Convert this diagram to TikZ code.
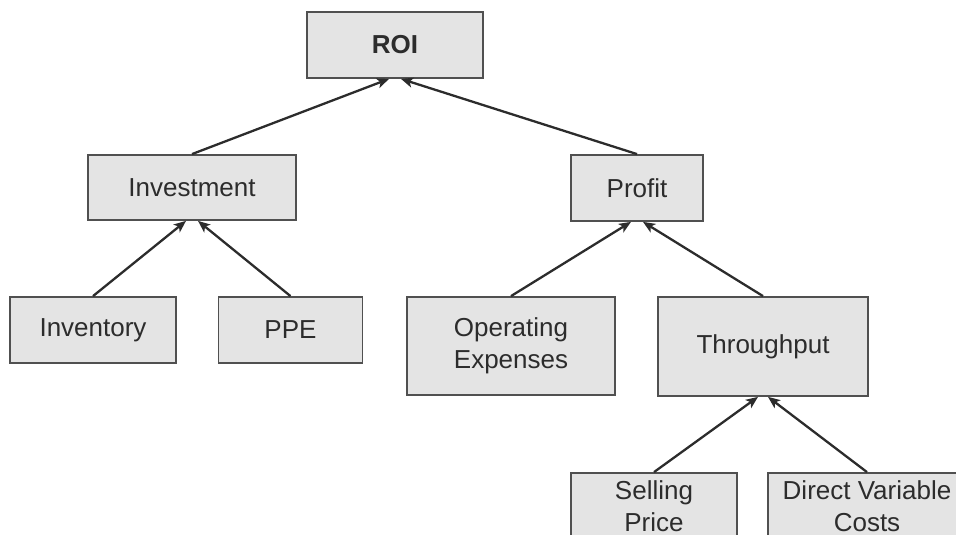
\documentclass[tikz,border=0pt]{standalone}
\usepackage{fontspec}
\setmainfont{Liberation Sans}
\usepackage{xcolor}
\usepackage{tikz}
\usetikzlibrary{arrows.meta}
\definecolor{boxfill}{HTML}{E4E4E4}
\definecolor{boxline}{HTML}{505050}
\definecolor{ink}{HTML}{2C2C2C}

\begin{document}
\begin{tikzpicture}
  [
    x=1pt, y=-1pt,
    Box/.style={rectangle, draw=boxline, fill=boxfill, line width=1.8pt, text=ink,
      align=center, inner sep=2pt, font=\fontsize{26}{32}\selectfont},
    Link/.style={draw=ink, line width=2.3pt, -{Stealth[length=12pt, width=10pt, inset=3pt]}}
  ]
  \useasboundingbox (0,0) rectangle (956,535);
  \clip (0,0) rectangle (956,535);
  % Nodes
  \node[Box, minimum width=176pt, minimum height=66pt] (roi) at (395, 45) {\textbf{ROI}};
  \node[Box, minimum width=208pt, minimum height=65pt] (invest) at (192, 187.5) {Investment};
  \node[Box, minimum width=132pt, minimum height=66pt] (profit) at (637, 188) {Profit};
  \node[Box, minimum width=166pt, minimum height=66pt] (stock) at (93, 330) {Inventory};
  \node[Box, minimum width=144pt, minimum height=66pt] (ppe) at (290.5, 330) {PPE};
  \node[Box, minimum width=208pt, minimum height=98pt] (opex) at (511, 346) {Operating\\Expenses};
  \node[Box, minimum width=210pt, minimum height=99pt] (tput) at (763, 346.5) {Throughput};
  \node[Box, minimum width=166pt, minimum height=66pt] (price) at (654, 506) {Selling\\Price};
  \node[Box, minimum width=198pt, minimum height=66pt] (dvc) at (867, 506) {Direct Variable\\Costs};
  % Lines
  \path [Link] (invest.north) -- ([xshift=-6pt]roi.south);
  \path [Link] (profit.north) -- ([xshift=6pt]roi.south);
  \path [Link] (stock.north) -- ([xshift=-6pt]invest.south);
  \path [Link] (ppe.north) -- ([xshift=6pt]invest.south);
  \path [Link] (opex.north) -- ([xshift=-6pt]profit.south);
  \path [Link] (tput.north) -- ([xshift=6pt]profit.south);
  \path [Link] (price.north) -- ([xshift=-5pt]tput.south);
  \path [Link] (dvc.north) -- ([xshift=5pt]tput.south);
\end{tikzpicture}
\end{document}
